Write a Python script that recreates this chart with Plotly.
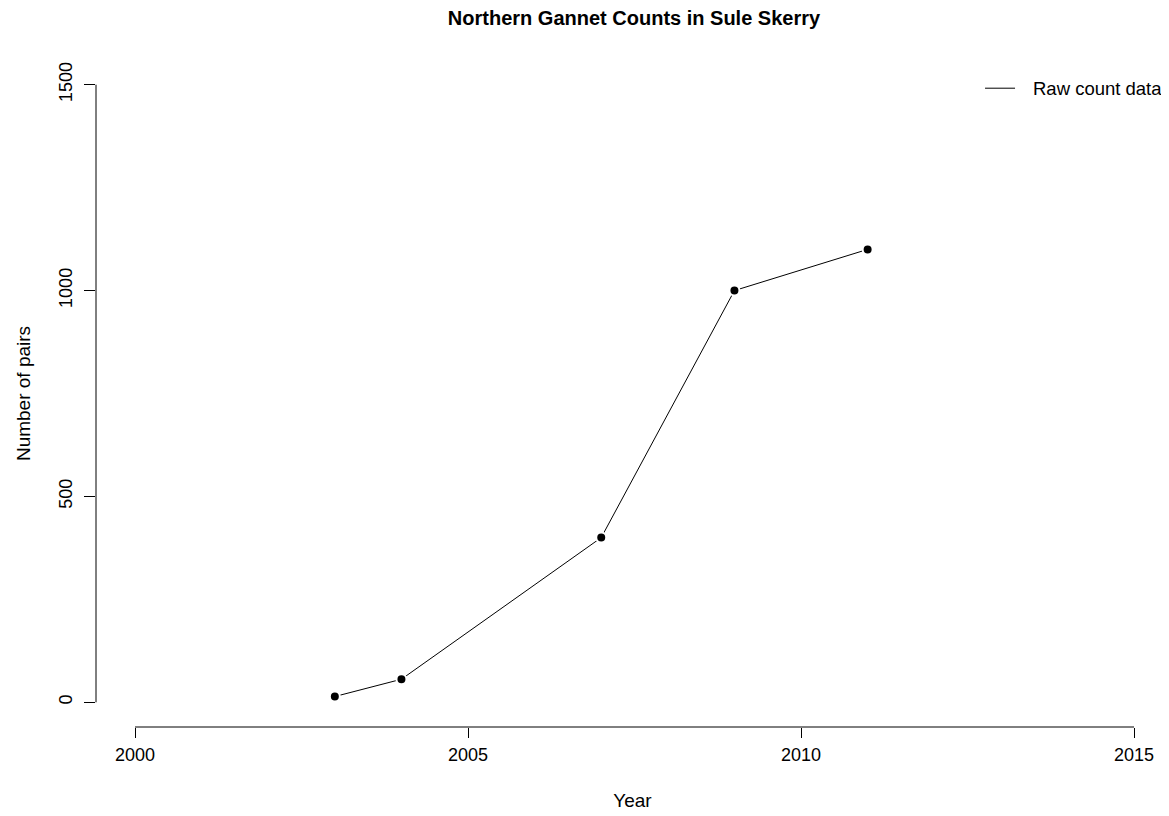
import plotly.graph_objects as go

years = [2003, 2004, 2007, 2009, 2011]
pairs = [14, 56, 400, 1000, 1100]
x_ticks = [2000, 2005, 2010, 2015]
y_ticks = [0, 500, 1000, 1500]

FONT = "Liberation Sans, Arial, sans-serif"

fig = go.Figure()
fig.add_trace(go.Scatter(x=years, y=pairs, mode="lines", name="\u2002\u2009Raw count data",
                         line=dict(color="black", width=1)))
fig.add_trace(go.Scatter(x=years, y=pairs, mode="markers", showlegend=False,
                         marker=dict(color="black", size=10,
                                     line=dict(color="white", width=2))))

# R-style axis lines spanning only first to last tick
fig.add_shape(type="line", xref="x", yref="paper", x0=x_ticks[0], x1=x_ticks[-1],
              y0=0, y1=0, line=dict(color="black", width=1))
fig.add_shape(type="line", xref="paper", yref="y", x0=0, x1=0,
              y0=y_ticks[0], y1=y_ticks[-1], line=dict(color="black", width=1))

# page has an 8px body margin, so the figure is 8px smaller than the window
fig.update_layout(
    width=1161, height=808,
    paper_bgcolor="white", plot_bgcolor="white",
    margin=dict(l=88, r=0, t=52, b=89),
    font=dict(family=FONT, size=18, color="black"),
    title=dict(text="<b>Northern Gannet Counts in Sule Skerry</b>",
               x=(626 - 88) / 1073, xanchor="center",
               xref="paper", yref="container", y=1 - 10 / 808, yanchor="middle",
               font=dict(size=20, family=FONT)),
    xaxis=dict(range=[1999.414, 2015.525], tickvals=x_ticks, ticktext=[str(v) for v in x_ticks],
               showgrid=False, zeroline=False, showline=False, automargin=False,
               ticks="outside", ticklen=10, tickcolor="black", tickwidth=1,
               ticklabelstandoff=1,
               title=dict(text="Year", standoff=30, font=dict(size=19))),
    yaxis=dict(range=[-60, 1560], tickvals=y_ticks, ticktext=[str(v) for v in y_ticks],
               showgrid=False, zeroline=False, showline=False, automargin=False,
               ticks="outside", ticklen=11, tickcolor="black", tickwidth=1,
               tickangle=-90, ticklabelstandoff=5,
               title=dict(text="Number of pairs", standoff=20, font=dict(size=19))),
    legend=dict(x=0.8239, xanchor="left", y=0.9855, yanchor="top",
                bgcolor="rgba(0,0,0,0)", font=dict(size=18.5)),
)

fig.write_html("out.html")
